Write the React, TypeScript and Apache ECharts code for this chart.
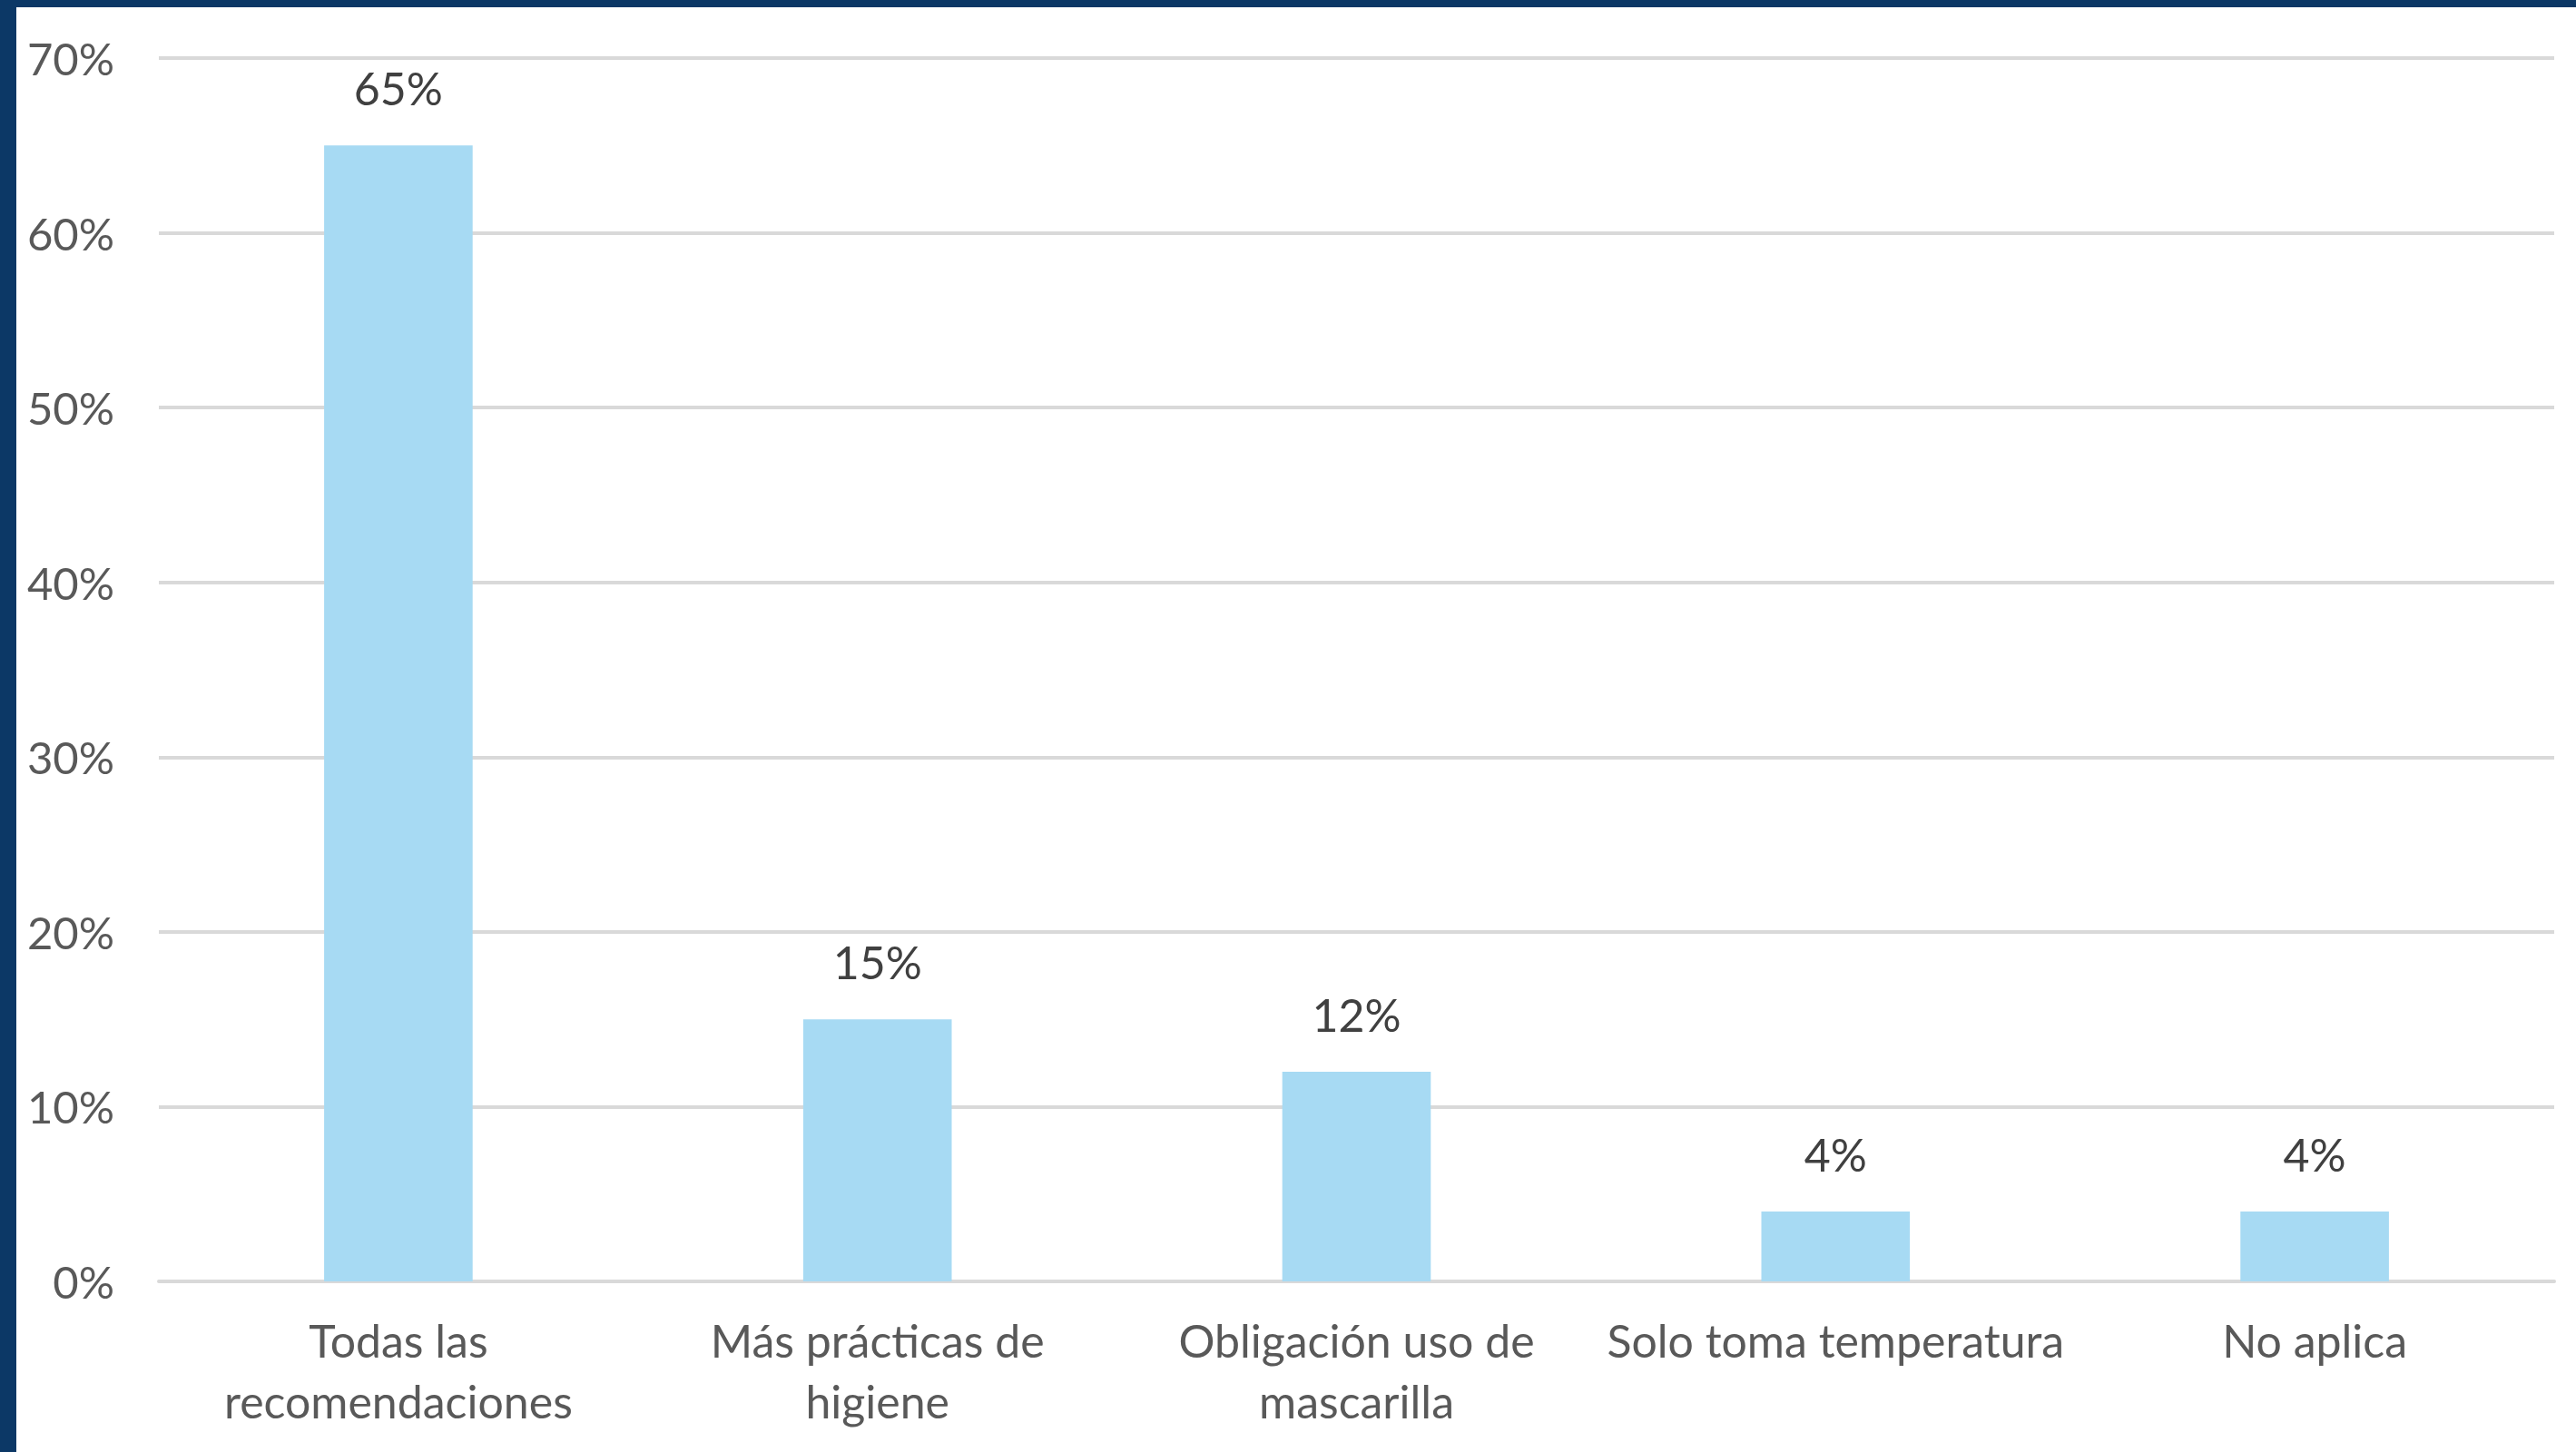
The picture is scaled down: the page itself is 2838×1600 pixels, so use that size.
import React, { useEffect, useRef } from "react";
import * as echarts from "echarts";

const categories = [
  "Todas las\nrecomendaciones",
  "Más prácticas de\nhigiene",
  "Obligación uso de\nmascarilla",
  "Solo toma temperatura",
  "No aplica",
];
const values = [65, 15, 12, 4, 4];
const yMin = 0;
const yMax = 70;
const yInterval = 10;

const FONT = "Lato, 'Open Sans', sans-serif";

export default function App() {
  const ref = useRef<HTMLDivElement>(null);
  useEffect(() => {
    document.body.style.margin = "0";
    if (!ref.current) return;
    const chart = echarts.init(ref.current, null, { renderer: "svg" });
    chart.setOption({
      animation: false,
      backgroundColor: "#ffffff",
      textStyle: { fontFamily: FONT },
      graphic: [
        { type: "rect", shape: { x: 0, y: 0, width: 2838, height: 8 }, style: { fill: "#0c3866" }, z: 100 },
        { type: "rect", shape: { x: 0, y: 0, width: 18, height: 1600 }, style: { fill: "#0c3866" }, z: 100 },
      ],
      grid: { left: 175, right: 24, top: 64, bottom: 188, containLabel: false },
      xAxis: {
        type: "category",
        data: categories,
        axisLine: { show: true, lineStyle: { color: "#d9d9d9", width: 4 } },
        axisTick: { show: false },
        axisLabel: {
          color: "#595959",
          fontSize: 50,
          fontFamily: FONT,
          lineHeight: 67,
          margin: 31,
          interval: 0,
        },
      },
      yAxis: {
        type: "value",
        min: yMin,
        max: yMax,
        interval: yInterval,
        axisLine: { show: false },
        axisTick: { show: false },
        splitLine: { lineStyle: { color: "#d9d9d9", width: 4 } },
        axisLabel: {
          color: "#595959",
          fontSize: 49,
          fontFamily: FONT,
          margin: 49,
          formatter: "{value}%",
        },
      },
      series: [
        {
          type: "bar",
          data: values,
          barWidth: "31%",
          itemStyle: { color: "#a7daf3" },
          label: {
            show: true,
            position: "top",
            distance: 38,
            color: "#404040",
            fontSize: 50,
            fontFamily: FONT,
            formatter: "{c}%",
          },
        },
      ],
    });
    return () => chart.dispose();
  }, []);
  return <div ref={ref} style={{ width: 2838, height: 1600 }} />;
}
